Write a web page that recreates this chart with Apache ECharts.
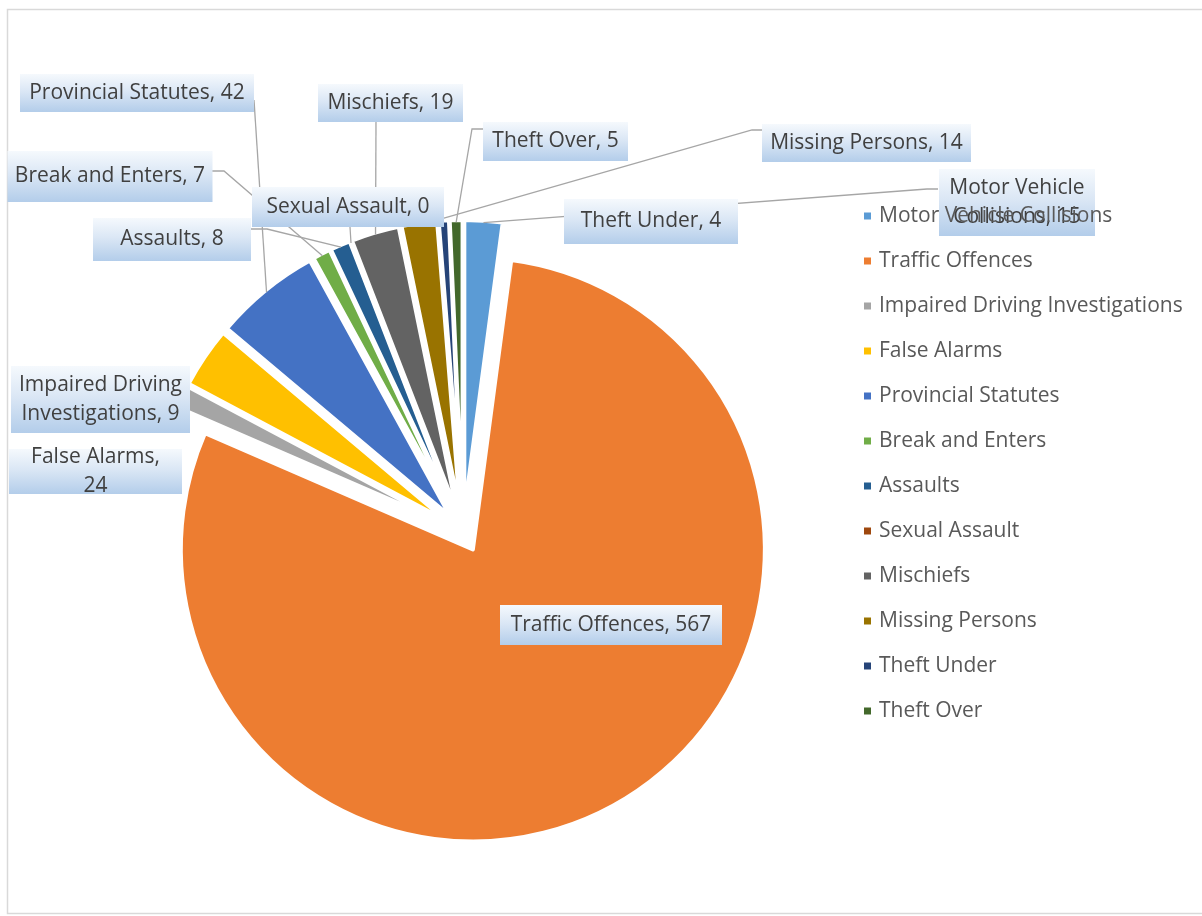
<!DOCTYPE html>
<html>
<head>
<meta charset="utf-8">
<script src="https://cdn.jsdelivr.net/npm/echarts@6/dist/echarts.min.js"></script>
<style>
html,body{margin:0;padding:0;background:#ffffff;}
#chart{width:1202px;height:916px;}
</style>
</head>
<body>
<div id="chart"></div>
<script>
// ---- data ----
const categories = [
  'Motor Vehicle Collisions', 'Traffic Offences', 'Impaired Driving Investigations',
  'False Alarms', 'Provincial Statutes', 'Break and Enters', 'Assaults',
  'Sexual Assault', 'Mischiefs', 'Missing Persons', 'Theft Under', 'Theft Over'
];
const counts = [15, 567, 9, 24, 42, 7, 8, 0, 19, 14, 4, 5];
const colors = [
  '#5b9bd5', '#ed7d31', '#a5a5a5', '#ffc000', '#4472c4', '#70ad47',
  '#255e91', '#9e480e', '#636363', '#997300', '#264478', '#43682b'
];
// label text wrapping (how the data labels break into lines)
const wrappedNames = {
  'Motor Vehicle Collisions': 'Motor Vehicle\nCollisions',
  'Impaired Driving Investigations': 'Impaired Driving\nInvestigations'
};
const breakAfterComma = { 'False Alarms': true };

// ---- layout (positions / sizes) ----
const CENTER = [463, 532];
const RADIUS = 292;
const EXPLODE = 20;
const LH = 29;
const TEXT_SHIFT = 2.5;
// label boxes: [centerX, centerY, width, height]
const labelBoxes = [
  [1017, 202.5, 156, 67],
  [611, 625, 222, 40],
  [100.5, 399.5, 179, 67],
  [95.5, 471.5, 173, 45],
  [137, 93, 234, 38],
  [110, 176.5, 205, 51],
  [172, 239.5, 158, 43],
  [348, 207, 192, 40],
  [390.5, 103, 145, 38],
  [866.5, 143, 209, 38],
  [651, 221.5, 174, 45],
  [555.5, 141.5, 145, 39]
];
// leader line bends (screen coords), from slice edge toward the label box
const leaderBends = [
  [[927, 189], [938, 189]],
  null, null, null,
  [[254, 100]],
  [[224, 171], [212, 171]],
  [[267, 229], [251, 229]],
  [[350, 227]],
  [[376, 122]],
  [[752, 130], [762, 130]],
  null,
  [[472, 129], [483, 129]]
];

function labelText(name, value) {
  if (breakAfterComma[name]) return name + ',\n' + value;
  return (wrappedNames[name] || name) + ', ' + value;
}

const labelBg = new echarts.graphic.LinearGradient(0, 0, 0, 1, [
  { offset: 0, color: '#f5f9fd' },
  { offset: 0.45, color: '#dbe7f5' },
  { offset: 1, color: '#b3cdea' }
]);

// exploded slices
const sliceData = categories.map(function (name, i) {
  return { name: name, value: counts[i], selected: true, itemStyle: { color: colors[i] } };
});
// labels carried by an invisible, non-exploded copy of the pie
const labelData = categories.map(function (name, i) {
  const txt = labelText(name, counts[i]);
  const nLines = txt.split('\n').length;
  const padV = (labelBoxes[i][3] - nLines * LH) / 2;
  return {
    name: name,
    value: counts[i],
    label: { formatter: txt, padding: [padV + TEXT_SHIFT, 0, padV - TEXT_SHIFT, 0] },
    labelLine: { show: !!leaderBends[i] }
  };
});

const chart = echarts.init(document.getElementById('chart'), null, { renderer: 'canvas' });
chart.setOption({
  animation: false,
  backgroundColor: '#ffffff',
  graphic: [{
    type: 'rect',
    silent: true,
    shape: { x: 7.5, y: 9.5, width: 1200, height: 904 },
    style: { fill: 'none', stroke: '#d9d9d9', lineWidth: 1.5 }
  }],
  legend: {
    orient: 'vertical',
    left: 862,
    top: 204,
    z: 10,
    padding: 0,
    itemGap: 21,
    itemWidth: 9,
    itemHeight: 9,
    icon: 'rect',
    selectedMode: false,
    data: categories,
    textStyle: {
      fontFamily: 'Open Sans',
      fontSize: 21,
      lineHeight: 24,
      color: '#595959',
      padding: [0, 0, 0, 2]
    }
  },
  series: [{
    type: 'pie',
    name: 'slices',
    z: 2,
    center: CENTER,
    radius: RADIUS,
    startAngle: 90,
    clockwise: true,
    minAngle: 0,
    selectedMode: 'multiple',
    selectedOffset: EXPLODE,
    emphasis: { disabled: true },
    itemStyle: { borderWidth: 4, borderColor: '#ffffff' },
    label: { show: false },
    labelLine: { show: false },
    data: sliceData
  }, {
    type: 'pie',
    name: 'labels',
    z: 3,
    silent: true,
    center: CENTER,
    radius: RADIUS,
    startAngle: 90,
    clockwise: true,
    minAngle: 0,
    avoidLabelOverlap: false,
    emphasis: { disabled: true },
    itemStyle: { color: 'rgba(0,0,0,0)', borderWidth: 0 },
    label: {
      show: true,
      position: 'outside',
      fontFamily: 'Open Sans',
      fontSize: 21,
      lineHeight: LH,
      color: '#404040',
      overflow: 'none',
      backgroundColor: labelBg
    },
    labelLine: {
      show: true,
      lineStyle: { color: '#a6a6a6', width: 1.3 }
    },
    labelLayout: function (p) {
      const i = p.dataIndex;
      const b = labelBoxes[i];
      const out = { x: b[0], y: b[1], align: 'center', verticalAlign: 'middle', width: b[2] };
      const bends = leaderBends[i];
      if (bends && p.labelLinePoints && p.labelLinePoints.length) {
        const p0 = p.labelLinePoints[0];
        const vx = p0[0] - CENTER[0], vy = p0[1] - CENTER[1];
        const len = Math.sqrt(vx * vx + vy * vy) || 1;
        const start = [p0[0] + vx / len * (EXPLODE - 2), p0[1] + vy / len * (EXPLODE - 2)];
        out.labelLinePoints = [start].concat(bends);
      }
      return out;
    },
    data: labelData
  }]
});
</script>
</body>
</html>
